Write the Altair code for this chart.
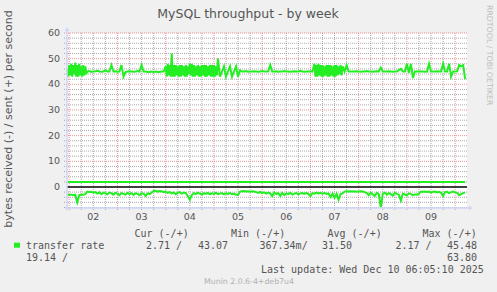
import altair as alt
import pandas as pd

# ---------------- data ----------------
title_text = "MySQL throughput - by week"
y_title = "bytes received (-) / sent (+) per second"
day_labels = ["02", "03", "04", "05", "06", "07", "08", "09"]
day_label_hours = [12, 36, 60, 84, 108, 132, 156, 180]
y_tick_values = [0, 10, 20, 30, 40, 50, 60]

# "sent" (+) series, hour 0 = Dec 02 00:00.  Busy stretches are sampled every
# half hour, quiet stretches every hour: (start hour, step, values)
sent_a = (-1, 0.5, [46, 43, 47.5, 43.5, 48, 43, 47.5, 44, 48.5, 43, 47.5, 43, 48, 43.5,
                    47, 43, 47.5, 43.5, 47, 44])
sent_b = (9, 1, [45, 45.2, 44.8, 45, 45.1, 45.3, 45, 44.9, 45, 45.4, 45, 45,
                 47.5,
                 45, 45.1, 44.9, 45,
                 47.5, 43,
                 44.8, 45, 45.1, 45, 44.9, 45, 45.2, 45,
                 47.5,
                 45, 45, 44.8, 44.8, 45, 44.8, 45, 44.8, 44.8, 45, 45])
sent_c = (48, 0.5, [47, 43, 48, 43.5, 47.5, 43, 52, 43, 47.5, 43,
                    47.5, 43.5, 47, 43, 47.5, 43, 47.5, 43.5, 47, 43,
                    47.5, 43, 47, 44, 48, 43.5, 48, 43, 47.5, 43,
                    47, 43.5, 47.5, 43, 47, 43, 47.5, 43.5, 47.5, 43,
                    47.5, 43, 47, 43.5, 47.5, 43, 47.5, 43, 47.5, 43,
                    47, 43.5])
sent_d = (74, 1, [50, 43, 45, 47, 43, 45, 47, 43, 45, 47, 43, 45.5,
                  45, 45, 45.2, 44.9, 45, 45, 45.1, 45, 44.9, 45, 45.2, 45, 45, 45.1,
                  47.5,
                  45, 45, 45.1, 44.9, 45, 45, 45.2, 45, 45, 44.9, 45, 45.1, 45, 45, 45.3,
                  45, 44.9, 45, 45, 45.1, 45])
sent_e = (122, 0.5, [48, 43, 47.5, 43, 48, 43.5, 47.5, 43, 47.5, 43, 47, 43.5, 47.5, 43,
                     47.5, 43, 47.5, 43.5, 47, 43, 47.5, 43, 47.5, 43.5, 47, 44, 47.5, 43.5])
sent_f = (136, 1, [47, 45, 47.5, 45, 45,
                   45, 45, 45.1, 45, 44.9, 45, 45, 45.2, 45, 45, 44.9, 45, 45.1, 45,
                   46.5,
                   45, 45, 45, 45.1, 45, 44.9, 45, 45, 45.5, 46, 45, 45,
                   48, 44.5, 48, 42.5,
                   45, 45, 45.1, 45, 45, 44.9, 45,
                   48,
                   45, 45, 45, 45.1, 45, 45,
                   48,
                   45, 45,
                   48, 43,
                   45, 45, 45.1,
                   47.5, 47, 47.5, 42])

# "received" (-) series, hourly from hour -1
received = (
    [-3, -3, -3, -3.1, -3, -6, -3.2, -3, -3, -2.8]
    + [-1.8, -2, -1.9, -2.2, -2, -2.6, -2.1, -2.8, -2.2, -2.5, -2.9, -2.2]
    + [-2.4, -3, -2.3, -2.6, -3.2, -2.4, -2.7, -3, -2.3, -2.8, -2.4, -3.1, -2.5,
       -2.7, -3.2, -2.5]
    + [-2.6, -3.5, -2.5, -2.8, -2.2]
    + [-1.6, -1.5, -1.8, -1.6, -1.7, -2.0, -1.8]
    + [-2.3, -2.0, -2.5, -2.1, -2.8, -2.3, -2.0, -2.6, -2.2, -2.4]
    + [-3.5, -5.0, -3.2]
    + [-2.4, -2.8, -2.2, -2.6, -3.0, -2.4, -2.7, -2.3, -2.9, -2.5, -2.7, -2.2,
       -2.8, -2.6, -2.4, -2.9, -2.5, -2.7, -2.4, -2.8, -2.6, -3.0]
    + [-3.1, -1.8]
    + [-1.7, -1.6, -1.8, -1.7, -1.9, -1.7, -1.8]
    + [-2.0, -2.3, -1.9, -2.4, -2.1, -2.6, -2.2]
    + [-2.5, -3.6, -2.2, -2.8, -2.4, -3.5, -2.3, -3.2, -2.5, -2.8, -2.3, -3.0,
       -2.6, -2.4, -2.9, -2.5]
    + [-2.4, -2.7, -2.3, -2.8, -3.6, -2.4, -2.6, -2.2, -2.5, -2.3, -2.6, -2.4,
       -2.7, -2.5]
    + [-3.9, -2.6, -4.2, -2.7, -5.0, -2.8, -2.5]
    + [-1.8, -1.7, -1.8, -1.7, -1.8, -1.7, -1.9, -1.8, -1.7, -1.8, -2.0]
    + [-2.4, -3.2, -2.2, -2.9, -3.5, -2.3, -2.8]
    + [-7.9, -2.6]
    + [-2.2, -3.0, -2.4, -2.8, -3.4, -2.3, -2.7, -3.0, -5.3, -2.6, -2.9, -3.3, -2.5]
    + [-2.8, -3.2, -2.9, -3.0, -2.6]
    + [-1.8, -1.9, -1.8, -2.0, -1.8, -2.2, -1.9, -1.8, -2.1, -1.9, -2.3, -3.5,
       -2.0, -1.9, -2.4, -2.0, -1.8, -2.1, -2.3, -3.2, -2.8, -2.4, -2.2]
)
received_hours = list(range(-1, -1 + len(received)))
assert len(received) == 199

flat_level = 1.95

legend_headers = ["Cur (-/+)", "Min (-/+)", "Avg (-/+)", "Max (-/+)"]
legend_row2 = ["transfer rate", "2.71 /", "43.07", "367.34m/", "31.50", "2.17 /", "45.48"]
legend_row3 = ["19.14 /", "63.80"]
last_update = "Last update: Wed Dec 10 06:05:10 2025"
munin_version = "Munin 2.0.6-4+deb7u4"
watermark = "RRDTOOL / TOBI OETIKER"

# build the sent series from its blocks
sent_hours, sent = [], []
for start, step, vals in [sent_a, sent_b, sent_c, sent_d, sent_e, sent_f]:
    for i, v in enumerate(vals):
        sent_hours.append(start + i * step)
        sent.append(v)
for (s0, st0, v0), (s1, _, _) in zip([sent_a, sent_b, sent_c, sent_d, sent_e],
                                     [sent_b, sent_c, sent_d, sent_e, sent_f]):
    assert abs(s0 + st0 * len(v0) - s1) < 1e-9, (s0, s1)
assert sent_hours[-1] == 197

# ---------------- layout / style ----------------
W, H = 400, 175
L, T = 67, 33
GREEN = "#22EE22"
FONT_COLOR = "#555555"
AXIS_COLOR = "#CFD6F8"

xs = alt.Scale(domain=[-1.1, 197.9], nice=False, zero=False)
ys = alt.Scale(domain=[-8.2, 60], nice=False, zero=False)

one = pd.DataFrame({"k": [0]})

series_df = pd.DataFrame({
    "h": sent_hours + received_hours + received_hours,
    "v": sent + received + [flat_level] * len(received_hours),
    "s": ["sent"] * len(sent) + ["received"] * len(received) + ["flat"] * len(received_hours),
})

minor_y = [v for v in range(-8, 60, 2) if v % 10 != 0]
major_y = [10, 20, 30, 40, 50, 60]
major_x = list(range(0, 198, 24))
minor_x = [h for h in range(6, 198, 6) if h % 24 != 0]


def hgrid(vals, color, opacity):
    return alt.Chart(pd.DataFrame({"v": vals})).mark_rule(
        color=color, opacity=opacity, strokeDash=[1, 1], strokeWidth=1
    ).encode(y=alt.Y("v:Q", scale=ys, axis=None), x=alt.value(-3), x2=alt.value(W))


def vgrid(vals, color, opacity):
    return alt.Chart(pd.DataFrame({"h": vals})).mark_rule(
        color=color, opacity=opacity, strokeDash=[1, 1], strokeWidth=1
    ).encode(x=alt.X("h:Q", scale=xs, axis=None), y=alt.value(0), y2=alt.value(H + 3))


def txt(s, x, y, size, color=FONT_COLOR, font="DejaVu Sans", align="left",
        baseline="alphabetic", angle=0):
    return alt.Chart(one).mark_text(
        text=s, fontSize=size, font=font, color=color, align=align,
        baseline=baseline, angle=angle
    ).encode(x=alt.value(x), y=alt.value(y))


layers = [
    hgrid(minor_y, "#8F8F8F", 0.75),
    vgrid(minor_x, "#8F8F8F", 0.75),
    hgrid(major_y, "#DE4F4F", 0.6),
    vgrid(major_x, "#DE4F4F", 0.6),
]

lines = alt.Chart(series_df).mark_line(strokeWidth=2, color=GREEN).encode(
    x=alt.X("h:Q", scale=xs, axis=None),
    y=alt.Y("v:Q", scale=ys, axis=None),
    detail="s:N",
    order="h:Q",
)
layers.append(lines)

zero_rule = alt.Chart(pd.DataFrame({"v": [0]})).mark_rule(color="#000000", strokeWidth=1.5).encode(
    y=alt.Y("v:Q", scale=ys, axis=None), x=alt.value(0), x2=alt.value(W)
)
layers.append(zero_rule)

# axis lines and arrows
layers.append(alt.Chart(one).mark_rule(color=AXIS_COLOR, strokeWidth=1.5).encode(
    x=alt.value(0), y=alt.value(-3), y2=alt.value(H + 2)))
layers.append(alt.Chart(one).mark_rule(color=AXIS_COLOR, strokeWidth=1.5).encode(
    y=alt.value(H), x=alt.value(-2), x2=alt.value(W + 3)))
layers.append(alt.Chart(one).mark_point(shape="triangle-up", filled=True, size=22,
                                        color=AXIS_COLOR, opacity=1).encode(
    x=alt.value(0), y=alt.value(-4)))
layers.append(alt.Chart(one).mark_point(shape="triangle-right", filled=True, size=22,
                                        color=AXIS_COLOR, opacity=1).encode(
    x=alt.value(W + 4), y=alt.value(H)))

# tick labels from data through the scales
ylab = alt.Chart(pd.DataFrame({"v": y_tick_values, "t": [str(v) for v in y_tick_values]})).mark_text(
    font="DejaVu Sans", fontSize=9.5, color=FONT_COLOR, align="right", baseline="middle"
).encode(y=alt.Y("v:Q", scale=ys, axis=None), x=alt.value(-7), text="t:N")
xlab = alt.Chart(pd.DataFrame({"h": day_label_hours, "t": day_labels})).mark_text(
    font="DejaVu Sans", fontSize=9.5, color=FONT_COLOR, align="center", baseline="alphabetic"
).encode(x=alt.X("h:Q", scale=xs, axis=None), y=alt.value(187), text="t:N")
layers += [ylab, xlab]

# titles
layers.append(txt(title_text, 248 - L, 18.3 - T, 12.5, align="center"))
layers.append(txt(y_title, 12 - L, 119 - T, 11, align="center", angle=270))
layers.append(txt(watermark, 488.5 - L, 5 - T, 7.8, color="#BDBDBD", align="left",
                  baseline="middle", angle=90))

# legend
MONO = "DejaVu Sans Mono"
head_x = [134.5, 231, 327.5, 422.5]
for s, x in zip(legend_headers, head_x):
    layers.append(txt(s, x - L, 237.3 - T, 10, font=MONO))
row2_x = [26, 146, 198, 259.5, 322, 395.5, 447]
for s, x in zip(legend_row2, row2_x):
    layers.append(txt(s, x - L, 249 - T, 10, font=MONO))
row3_x = [26, 447]
for s, x in zip(legend_row3, row3_x):
    layers.append(txt(s, x - L, 260.7 - T, 10, font=MONO))
layers.append(txt(last_update, 261 - L, 273 - T, 10, font=MONO))
layers.append(txt(munin_version, 249 - L, 284 - T, 7.8, color="#B0B0B0", align="center"))

# legend colour swatch
layers.append(alt.Chart(one).mark_rect(color=GREEN).encode(
    x=alt.value(14 - L), x2=alt.value(20 - L), y=alt.value(242.7 - T), y2=alt.value(247.7 - T)))

chart = alt.layer(*layers).properties(
    width=W, height=H,
    background="#F0F0F0",
    padding={"left": L, "top": T, "right": 497 - L - W, "bottom": 292 - T - H},
    autosize=alt.AutoSizeParams(type="none"),
).configure_view(fill="#FFFFFF", stroke=None)

chart.save("out.html", embed_options={"renderer": "svg", "actions": False})
